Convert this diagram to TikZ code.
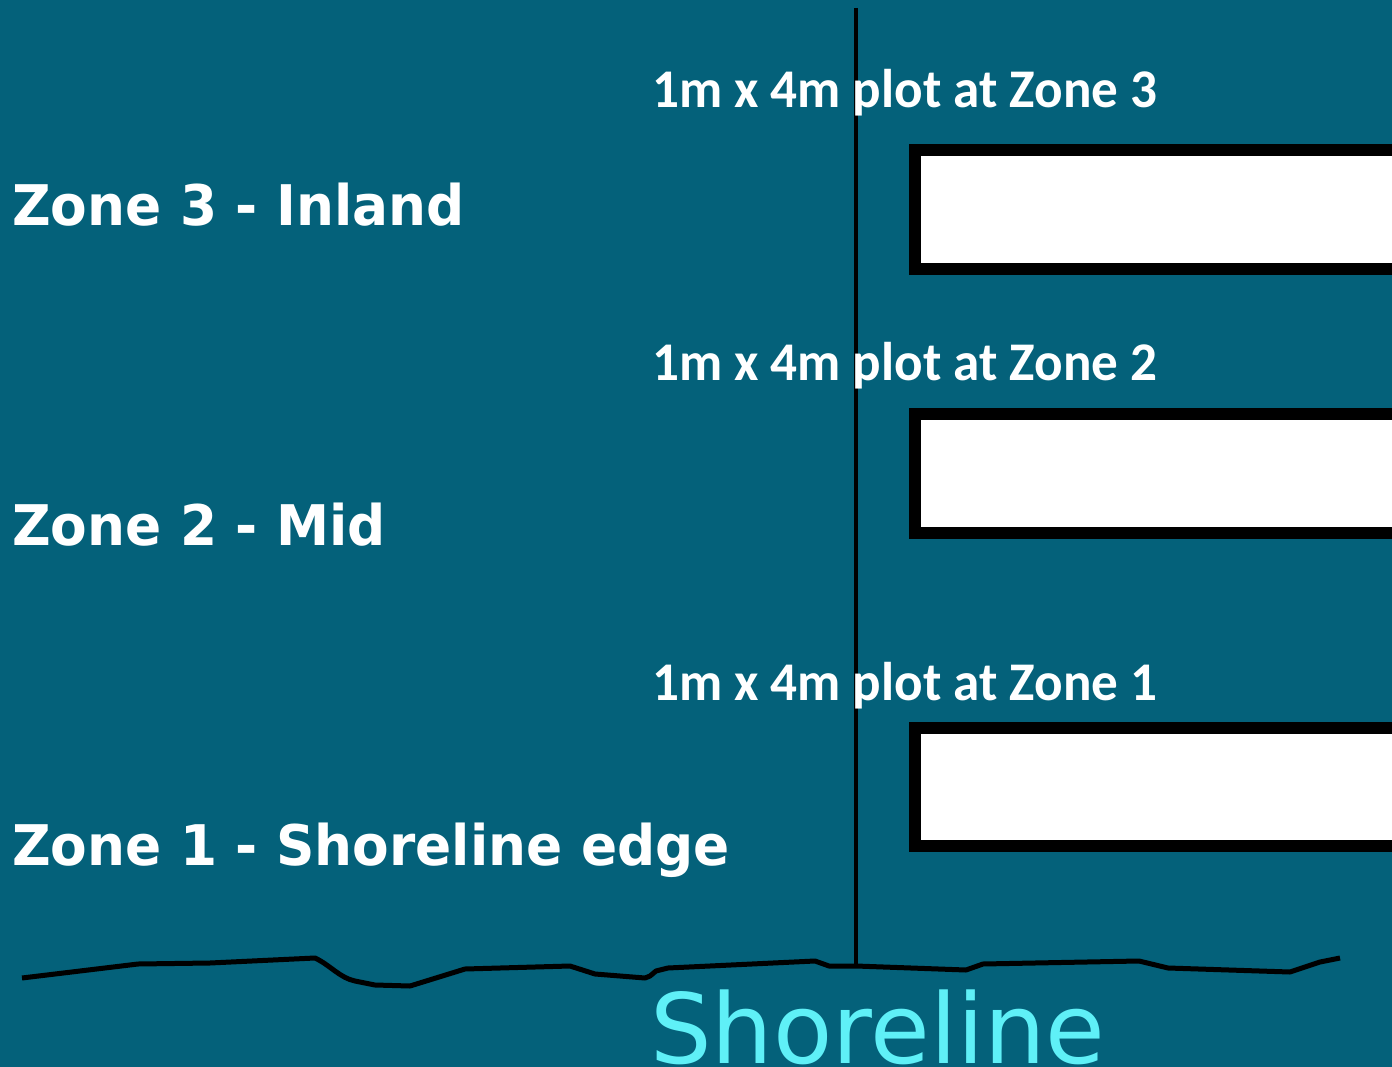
\documentclass[tikz,border=0pt]{standalone}
\usepackage{fontspec}
\newfontfamily\zonefont{DejaVu Sans}
\newfontfamily\plotfont{Carlito}
\definecolor{bgteal}{RGB}{4,97,122}
\definecolor{shorecyan}{RGB}{95,240,247}
\newcommand{\zonetext}[1]{\scalebox{0.952}[1]{#1}}
\newcommand{\plottext}[1]{\scalebox{0.975}[1]{#1}}
\begin{document}
\begin{tikzpicture}[x=1pt,y=-1pt,
  zonelabel/.style={anchor=base west,inner sep=0,text=white,font=\zonefont\bfseries\fontsize{56}{60}\selectfont},
  plotlabel/.style={anchor=base west,inner sep=0,text=white,font=\plotfont\bfseries\fontsize{54.5}{60}\selectfont},
  plotbox/.style={draw=black,fill=white,line width=12pt},
  blackline/.style={draw=black,line width=5pt,line join=round}]
\fill[bgteal] (0,0) rectangle (1392,1067);
\useasboundingbox (0,0) rectangle (1392,1067);
% plots
\path[plotbox] (915,150) rectangle (1400,269);
\path[plotbox] (915,414) rectangle (1400,533);
\path[plotbox] (915,728) rectangle (1400,846);
% shoreline
\draw[blackline] (22,978) -- (138,964) -- (210,963) -- (315,958) .. controls (330,965) and (340,978) .. (355,981)
  -- (375,985) -- (410,986) -- (465,969) -- (570,966) -- (595,974) -- (645,978) -- (650,976) -- (656,971) -- (668,968)
  -- (815,961) -- (829,966) -- (856,966) -- (966,970) -- (983,964) -- (1139,961) -- (1168,968) -- (1290,972) -- (1320,962) -- (1340,958);
\coordinate (top) at (856,8);
\coordinate (foot) at (856,966);
\draw[black,line width=4.5pt] (top) -- (foot);
% labels
\node[plotlabel] (p3) at (652,108) {\plottext{1m x 4m plot at Zone 3}};
\node[plotlabel] (p2) at (652,380) {\plottext{1m x 4m plot at Zone 2}};
\node[plotlabel] (p1) at (652,700) {\plottext{1m x 4m plot at Zone 1}};
\node[zonelabel] (z3) at (12,226) {\zonetext{Zone 3 - Inland}};
\node[zonelabel] (z2) at (12,545) {\zonetext{Zone 2 - Mid}};
\node[zonelabel] (z1) at (12,865) {\zonetext{Zone 1 - Shoreline edge}};
\node[anchor=base west,inner sep=0,text=shorecyan,font=\zonefont\fontsize{97}{100}\selectfont] (shore) at (650,1063) {Shoreline};
\end{tikzpicture}
\end{document}
